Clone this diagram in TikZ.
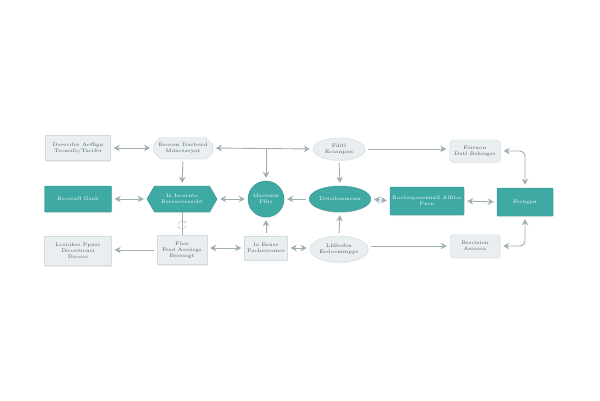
\documentclass[tikz,border=0pt]{standalone}
\usetikzlibrary{shapes.geometric,shapes.misc,shapes.symbols,arrows.meta,shadows,calc}
\definecolor{teal1}{HTML}{3FA9A4}
\definecolor{tealb}{HTML}{31908C}
\definecolor{lightf}{HTML}{E9EEF0}
\definecolor{lightb}{HTML}{D3DBDE}
\definecolor{arr}{HTML}{A0ADB3}
\definecolor{txt}{HTML}{4C5B61}
\tikzset{
  x=1pt,y=-1pt,
  lbox/.style={draw=lightb,fill=lightf,line width=0.4pt,text=txt,align=center,
    font=\fontsize{5}{6}\selectfont,inner sep=1pt,
    drop shadow={opacity=0.12,shadow xshift=0.6pt,shadow yshift=-1.2pt}},
  tbox/.style={draw=tealb,fill=teal1,line width=0.4pt,text=white,align=center,
    font=\fontsize{5}{6}\selectfont,inner sep=1pt,
    drop shadow={opacity=0.15,shadow xshift=0.6pt,shadow yshift=-1.2pt}},
  conn/.style={draw=arr,line width=0.9pt,shorten >=3pt,shorten <=3pt},
  tip/.style={-{Stealth[length=6pt,width=6.5pt]}},
  bitip/.style={{Stealth[length=6pt,width=6.5pt]}-{Stealth[length=6pt,width=6.5pt]}},
}
\begin{document}
\begin{tikzpicture}
\useasboundingbox[fill=white] (0,0) rectangle (600,400);
% row 1
\node[lbox,rectangle,minimum width=65pt,minimum height=25pt] (A) at (78,148) {Dvercifer Aeffign\\Tecnsifs/Tacifer};
\node[lbox,chamfered rectangle,chamfered rectangle xsep=4pt,minimum width=56pt,minimum height=21pt] (B) at (183,148) {Bsoraw Dasteisd\\Mdacsaryat};
\node[lbox,ellipse,minimum width=52pt,minimum height=22pt] (C) at (339,149) {Fditl\\Ecsanpau};
\node[lbox,rounded corners=4pt,minimum width=51pt,minimum height=22pt] (D) at (475,151) {Fsrraon\\Datl Bshiages};
% row 2
\node[tbox,rectangle,rounded corners=1pt,minimum width=67pt,minimum height=26pt] (E) at (78,199) {Bsossufl Gsnb};
\node[tbox,signal,signal to=east and west,signal pointer angle=120,minimum width=70pt,minimum height=26pt] (F) at (182,199) {Ia Ieosrnte\\Bseeasvrussbt};
\node[tbox,circle,minimum size=36pt] (G) at (266,199) {Mxstenw\\Flbs};
\node[tbox,ellipse,minimum width=52pt,minimum height=26pt] (H) at (340,199) {Dstsibsnmenn};
\node[tbox,rectangle,rounded corners=1pt,minimum width=74pt,minimum height=28pt] (I) at (427,201) {Bacteepeasnuall Alfitss\\Pnsn};
\node[tbox,rectangle,rounded corners=1pt,minimum width=56pt,minimum height=28pt] (J) at (525,202) {Fssbgpn};
% row 3
\node[lbox,rectangle,minimum width=67pt,minimum height=29pt] (K) at (78,251) {Lcsiuhss Ppuss\\Dsosstiousi\\Dsosos};
\node[lbox,rectangle,minimum width=50pt,minimum height=29pt] (L) at (182,250) {Fbsr\\Fssd Asssisgs\\Bsssssgt};
\node[lbox,rectangle,minimum width=43pt,minimum height=24pt] (M) at (266,248) {Ia Eeuse\\Pacheseomes};
\node[lbox,ellipse,minimum width=52pt,minimum height=26pt] (N) at (339,249) {Lfdbefsn\\Ecdoemmpps};
\node[lbox,rounded corners=3pt,minimum width=50pt,minimum height=23pt] (O) at (475,246) {Bsecision\\Assossa};
% connectors row 1
\draw[conn,bitip] (A.east) -- (B.west);
\draw[conn,bitip] (B.east) -- (C.west);
\draw[conn,tip] (C.east) -- (D.west |- C.east);
\draw[conn,bitip,rounded corners=5pt] (D.east) -| (J.north);
% verticals down
\draw[conn,tip] (B.south) -- (F.north);
\draw[conn,tip,shorten <=0pt] (G.north |- B.east) -- (G.north);
\draw[conn,tip] (C.south) -- (H.north);
% row 2
\draw[conn,bitip] (E.east) -- (F.west);
\draw[conn,bitip] (F.east) -- (G.west);
\draw[conn,tip] (H.west) -- (G.east);
\draw[conn,bitip] (H.east) -- (I.west);
\draw[conn,bitip] (I.east) -- (J.west);
% F-L with loop symbol
\draw[draw=arr,line width=0.8pt] (F.south) -- (L.north);
\coordinate (loop) at ($(F.south)!0.55!(L.north)$);
\draw[draw=arr!80,line width=0.4pt,-{Stealth[length=1.8pt]}] ([xshift=-4pt]loop) arc (180:20:4pt);
\draw[draw=arr!80,line width=0.4pt,-{Stealth[length=1.8pt]}] ([xshift=4pt]loop) arc (0:-160:4pt);
% row 3
\draw[conn,tip] (L.west) -- (K.east |- L.west);
\draw[conn,bitip] (L.east |- M.west) -- (M.west);
\draw[conn,tip] (M.north) -- (G.south);
\draw[conn,bitip] (M.east) -- (N.west |- M.east);
\draw[conn,tip] (N.north) -- (H.south);
\draw[conn,tip] (N.east |- O.west) -- (O.west);
\draw[conn,bitip,rounded corners=5pt] (O.east) -| (J.south);
\end{tikzpicture}
\end{document}
